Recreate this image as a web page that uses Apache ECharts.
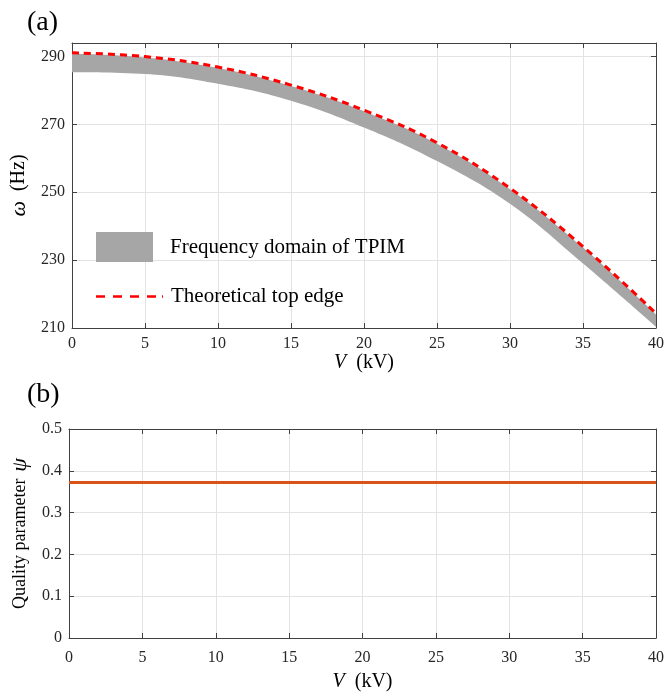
<!DOCTYPE html>
<html><head><meta charset="utf-8">
<script src="https://cdn.jsdelivr.net/npm/echarts@6/dist/echarts.min.js"></script>
<style>html,body{margin:0;padding:0;background:#fff}#c{width:667px;height:693px}</style>
</head><body><div id="c"></div>
<script>
const voltage = ['0', '5', '10', '15', '20', '25', '30', '35', '40'];
const topEdge = [291.1, 290.0, 286.9, 281.6, 274.2, 264.6, 251.2, 234.0, 214.3];
const bandHigh = [290.8, 289.7, 286.6, 281.3, 273.9, 264.3, 250.9, 233.7, 214.0];
const bandLow = [285.4, 284.9, 282.0, 277.0, 269.1, 259.2, 246.6, 229.0, 210.4];
const psiValues = [0.372, 0.372, 0.372, 0.372, 0.372, 0.372, 0.372, 0.372, 0.372];
const omegaTicks = [210, 230, 250, 270, 290];
const psiTicks = [0, 0.1, 0.2, 0.3, 0.4, 0.5];

const FONT = '"Liberation Serif", "Times New Roman", serif';
const AX = '#404040';
const GRIDC = '#e3e3e3';

const bandWidth = bandHigh.map((h, i) => +(h - bandLow[i]).toFixed(2));

function xAxisDef(gi, pos, main, margin, nameGap) {
  return {
    type: 'category', data: voltage, boundaryGap: false, gridIndex: gi, position: pos,
    axisLine: { show: true, onZero: false, lineStyle: { color: AX, width: 1 } },
    axisTick: { show: true, inside: true, length: 5, interval: 0, lineStyle: { color: AX } },
    axisLabel: { show: main, interval: 0, fontFamily: FONT, fontSize: 16, color: '#262626', margin: margin },
    splitLine: { show: main, interval: 0, lineStyle: { color: GRIDC } },
    name: main ? '{i|V}   {n|(kV)}' : '', nameLocation: 'middle', nameGap: nameGap,
    nameTextStyle: { rich: {
      i: { fontFamily: FONT, fontStyle: 'italic', fontSize: 20, color: '#000' },
      n: { fontFamily: FONT, fontSize: 20, color: '#000' } } }
  };
}

const dashIcon = 'path://M0,0h9v2.5h-9z M17,0h9v2.5h-9z M34,0h9v2.5h-9z M51,0h9v2.5h-9z M66,0h1v2.5h-1z';

const option = {
  animation: false,
  backgroundColor: '#fff',
  grid: [
    { left: 72, top: 43, width: 585, height: 285 },
    { left: 69, top: 429, width: 590, height: 209 }
  ],
  xAxis: [
    xAxisDef(0, 'bottom', true, 8, 19), xAxisDef(0, 'top', false, 8, 0),
    xAxisDef(1, 'bottom', true, 12, 34), xAxisDef(1, 'top', false, 8, 0)
  ],
  yAxis: [
    { type: 'value', gridIndex: 0, position: 'left', min: 210, max: 294, interval: 20,
      axisLine: { show: true, onZero: false, lineStyle: { color: AX } },
      axisTick: { show: true, inside: true, length: 5, lineStyle: { color: AX }, customValues: omegaTicks },
      axisLabel: { fontFamily: FONT, fontSize: 16, color: '#262626', customValues: omegaTicks, margin: 7 },
      splitLine: { show: true, lineStyle: { color: GRIDC } },
      name: '{i|ω}   {n|(Hz)}', nameLocation: 'middle', nameGap: 26,
      nameTextStyle: { rich: {
        i: { fontFamily: FONT, fontStyle: 'italic', fontSize: 22, color: '#000' },
        n: { fontFamily: FONT, fontSize: 20, color: '#000' } } } },
    { type: 'value', gridIndex: 0, position: 'right', min: 210, max: 294, interval: 20,
      axisLine: { show: true, onZero: false, lineStyle: { color: AX } },
      axisTick: { show: true, inside: true, length: 5, lineStyle: { color: AX }, customValues: omegaTicks },
      axisLabel: { show: false, customValues: omegaTicks }, splitLine: { show: false } },
    { type: 'value', gridIndex: 1, position: 'left', min: 0, max: 0.5, interval: 0.1,
      axisLine: { show: true, onZero: false, lineStyle: { color: AX } },
      axisTick: { show: true, inside: true, length: 5, lineStyle: { color: AX } },
      axisLabel: { fontFamily: FONT, fontSize: 16, color: '#262626', margin: 7 },
      splitLine: { show: true, lineStyle: { color: GRIDC } },
      name: '{n|Quality parameter}  {i|ψ}', nameLocation: 'middle', nameGap: 38,
      nameTextStyle: { rich: {
        i: { fontFamily: FONT, fontStyle: 'italic', fontSize: 22, color: '#000' },
        n: { fontFamily: FONT, fontSize: 18, color: '#000' } } } },
    { type: 'value', gridIndex: 1, position: 'right', min: 0, max: 0.5, interval: 0.1,
      axisLine: { show: true, onZero: false, lineStyle: { color: AX } },
      axisTick: { show: true, inside: true, length: 5, lineStyle: { color: AX } },
      axisLabel: { show: false }, splitLine: { show: false } }
  ],
  legend: [
    { data: [{ name: 'Frequency domain of TPIM', icon: 'rect', itemStyle: { color: '#a6a6a6' } }],
      left: 96, top: 232, padding: 0, itemWidth: 57, itemHeight: 30, selectedMode: false,
      textStyle: { fontFamily: FONT, fontSize: 21, color: '#000', padding: [0, 0, 0, 12] } },
    { data: [{ name: 'Theoretical top edge', icon: dashIcon, itemStyle: { color: '#ff0000' } }],
      left: 96, top: 286, padding: 0, itemWidth: 67, itemHeight: 14, selectedMode: false,
      textStyle: { fontFamily: FONT, fontSize: 21, color: '#000', padding: [0, 0, 0, 3] } }
  ],
  graphic: [
    { type: 'text', left: 27, top: 9, style: { text: '(a)', font: '28px "Liberation Serif"', fill: '#000' } },
    { type: 'text', left: 27, top: 381, style: { text: '(b)', font: '28px "Liberation Serif"', fill: '#000' } }
  ],
  series: [
    { name: 'bandBase', type: 'line', xAxisIndex: 0, yAxisIndex: 0, stack: 'band',
      data: bandLow, smooth: 0.4, symbol: 'none', lineStyle: { width: 0, opacity: 0 }, silent: true },
    { name: 'Frequency domain of TPIM', type: 'line', xAxisIndex: 0, yAxisIndex: 0, stack: 'band',
      data: bandWidth, smooth: 0.4, symbol: 'none', color: '#a6a6a6',
      lineStyle: { width: 0, opacity: 0 }, areaStyle: { color: '#a6a6a6', opacity: 1 } },
    { name: 'Theoretical top edge', type: 'line', xAxisIndex: 0, yAxisIndex: 0,
      data: topEdge, smooth: 0.4, symbol: 'none', color: '#ff0000', z: 5,
      lineStyle: { color: '#ff0000', width: 3, type: [7, 5] } },
    { name: 'psi', type: 'line', xAxisIndex: 2, yAxisIndex: 2,
      data: psiValues, symbol: 'none', color: '#D95319',
      lineStyle: { color: '#D95319', width: 3 } }
  ]
};
const chart = echarts.init(document.getElementById('c'), null, { renderer: 'canvas' });
chart.setOption(option);
</script></body></html>
